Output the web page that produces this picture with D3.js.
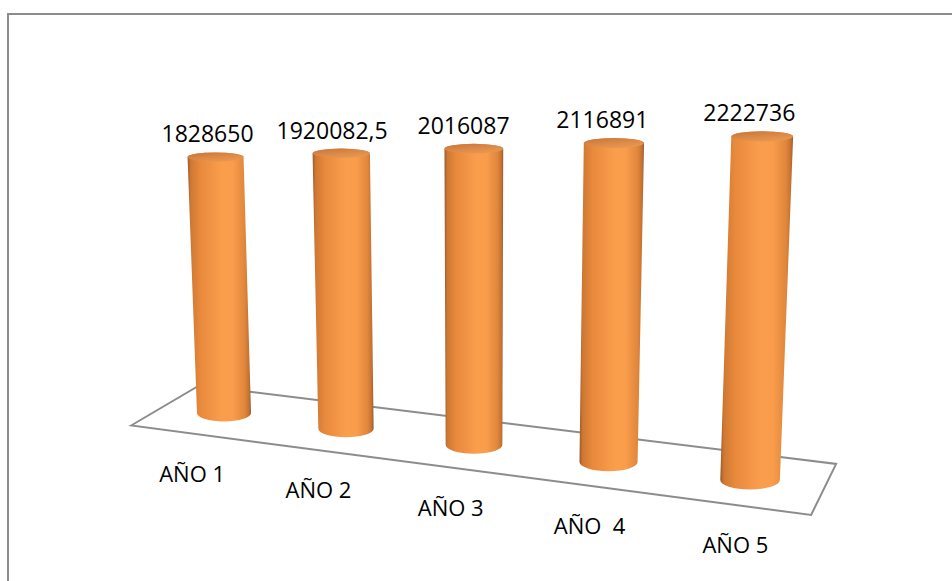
<!DOCTYPE html>
<html>
<head>
<meta charset="utf-8">
<script src="https://cdn.jsdelivr.net/npm/d3@7"></script>
<style>
  html, body { margin: 0; padding: 0; background: #ffffff; }
  svg { display: block; }
  text { font-family: "Open Sans", "DejaVu Sans", sans-serif; fill: #000; white-space: pre; }
</style>
</head>
<body>
<svg id="chart" width="952" height="581"></svg>
<script>
// ---- data ----
const categories = ["AÑO 1", "AÑO 2", "AÑO 3", "AÑO  4", "AÑO 5"];
const values = [1828650, 1920082.5, 2016087, 2116891, 2222736];
const valueLabels = ["1828650", "1920082,5", "2016087", "2116891", "2222736"];

// ---- layout / perspective scales ----
const svg = d3.select("#chart");
const W = 952, H = 581;

const uScale = d3.scalePoint().domain(categories).range([0, 4]);      // position along floor
const hScale = d3.scaleLinear().domain([0, 2500000]).range([0, 350]);  // value -> height (px at depth 0)
const persp = u => 1 / (1 - 0.0236 * u);
const g = u => u * persp(u);
const xMid = d3.scaleLinear().domain([0, 1]).range([224, 224 + 119.1]);
const yMid = d3.scaleLinear().domain([0, 1]).range([413, 413 + 15.18]);
const depthX = d3.scaleLinear().domain([-0.5, 4.5]).range([34, 12.5]);
const depthY = d3.scaleLinear().domain([-0.5, 4.5]).range([-20, -25.5]);
const vanishX = 478, vanishDepth = 7700;

function proj(u, v) {
  return [xMid(g(u)) + v * depthX(u), yMid(g(u)) + v * depthY(u)];
}

// ---- outer border ----
svg.append("rect")
  .attr("x", 8).attr("y", 14).attr("width", 1000).attr("height", 1000)
  .attr("fill", "none").attr("stroke", "#8c8c8c").attr("stroke-width", 2);

// ---- gradients ----
const defs = svg.append("defs");
const body = defs.append("linearGradient").attr("id", "bodyGrad")
  .attr("x1", 0).attr("y1", 0).attr("x2", 1).attr("y2", 0);
[[0, "#9a5a2a"], [0.05, "#cf7833"], [0.2, "#e8893c"], [0.55, "#fb9e4c"],
 [0.72, "#f99c4b"], [0.9, "#e0873c"], [0.97, "#c47030"], [1, "#8e5a32"]]
  .forEach(([o, c]) => body.append("stop").attr("offset", o).attr("stop-color", c));
const cap = defs.append("linearGradient").attr("id", "capGrad")
  .attr("x1", 0).attr("y1", 0).attr("x2", 0.6).attr("y2", 1);
[[0, "#c57538"], [0.6, "#dc8a47"], [1, "#e8964f"]]
  .forEach(([o, c]) => cap.append("stop").attr("offset", o).attr("stop-color", c));

// ---- floor ----
const floorPts = [proj(-0.5, -1), proj(-0.5, 1), proj(4.5, 1), proj(4.5, -1)];
svg.append("path")
  .attr("d", d3.line()(floorPts) + "Z")
  .attr("fill", "#ffffff").attr("stroke", "#8c8c8c").attr("stroke-width", 2)
  .attr("stroke-linejoin", "miter");

// ---- cylinders ----
const bars = categories.map((c, i) => {
  const u = uScale(c);
  const s = persp(u);
  const [bx, by] = proj(u, 0);
  const hp = hScale(values[i]) * s;
  const tx = bx + (bx - vanishX) * hp / vanishDepth;
  const ty = by - hp;
  return { c, i, u, s, bx, by, tx, ty, rb: 27 * s, rbY: 8.5 * s, rt: 28 * s, rtY: 4.6 * s };
});

const gBars = svg.append("g");
bars.forEach(b => {
  const d = `M${b.tx - b.rt},${b.ty} L${b.bx - b.rb},${b.by} ` +
    `A${b.rb},${b.rbY} 0 0 0 ${b.bx + b.rb},${b.by} ` +
    `L${b.tx + b.rt},${b.ty} A${b.rt},${b.rtY} 0 0 0 ${b.tx - b.rt},${b.ty} Z`;
  gBars.append("path").attr("d", d).attr("fill", "url(#bodyGrad)");
  gBars.append("ellipse")
    .attr("cx", b.tx).attr("cy", b.ty).attr("rx", b.rt).attr("ry", b.rtY)
    .attr("fill", "url(#capGrad)");
});

// ---- value labels ----
svg.append("g").selectAll("text").data(bars).join("text")
  .attr("x", b => b.tx - 8 - 0.009 * (b.tx - 215))
  .attr("y", b => b.ty - b.rtY - 10)
  .attr("text-anchor", "middle")
  .attr("font-size", 23)
  .text(b => valueLabels[b.i]);

// ---- category labels ----
svg.append("g").selectAll("text").data(bars).join("text")
  .attr("x", b => proj(b.u, -1)[0])
  .attr("y", b => proj(b.u, -1)[1] + 48)
  .attr("text-anchor", "middle")
  .attr("font-size", 22)
  .text(b => b.c);
</script>
</body>
</html>
